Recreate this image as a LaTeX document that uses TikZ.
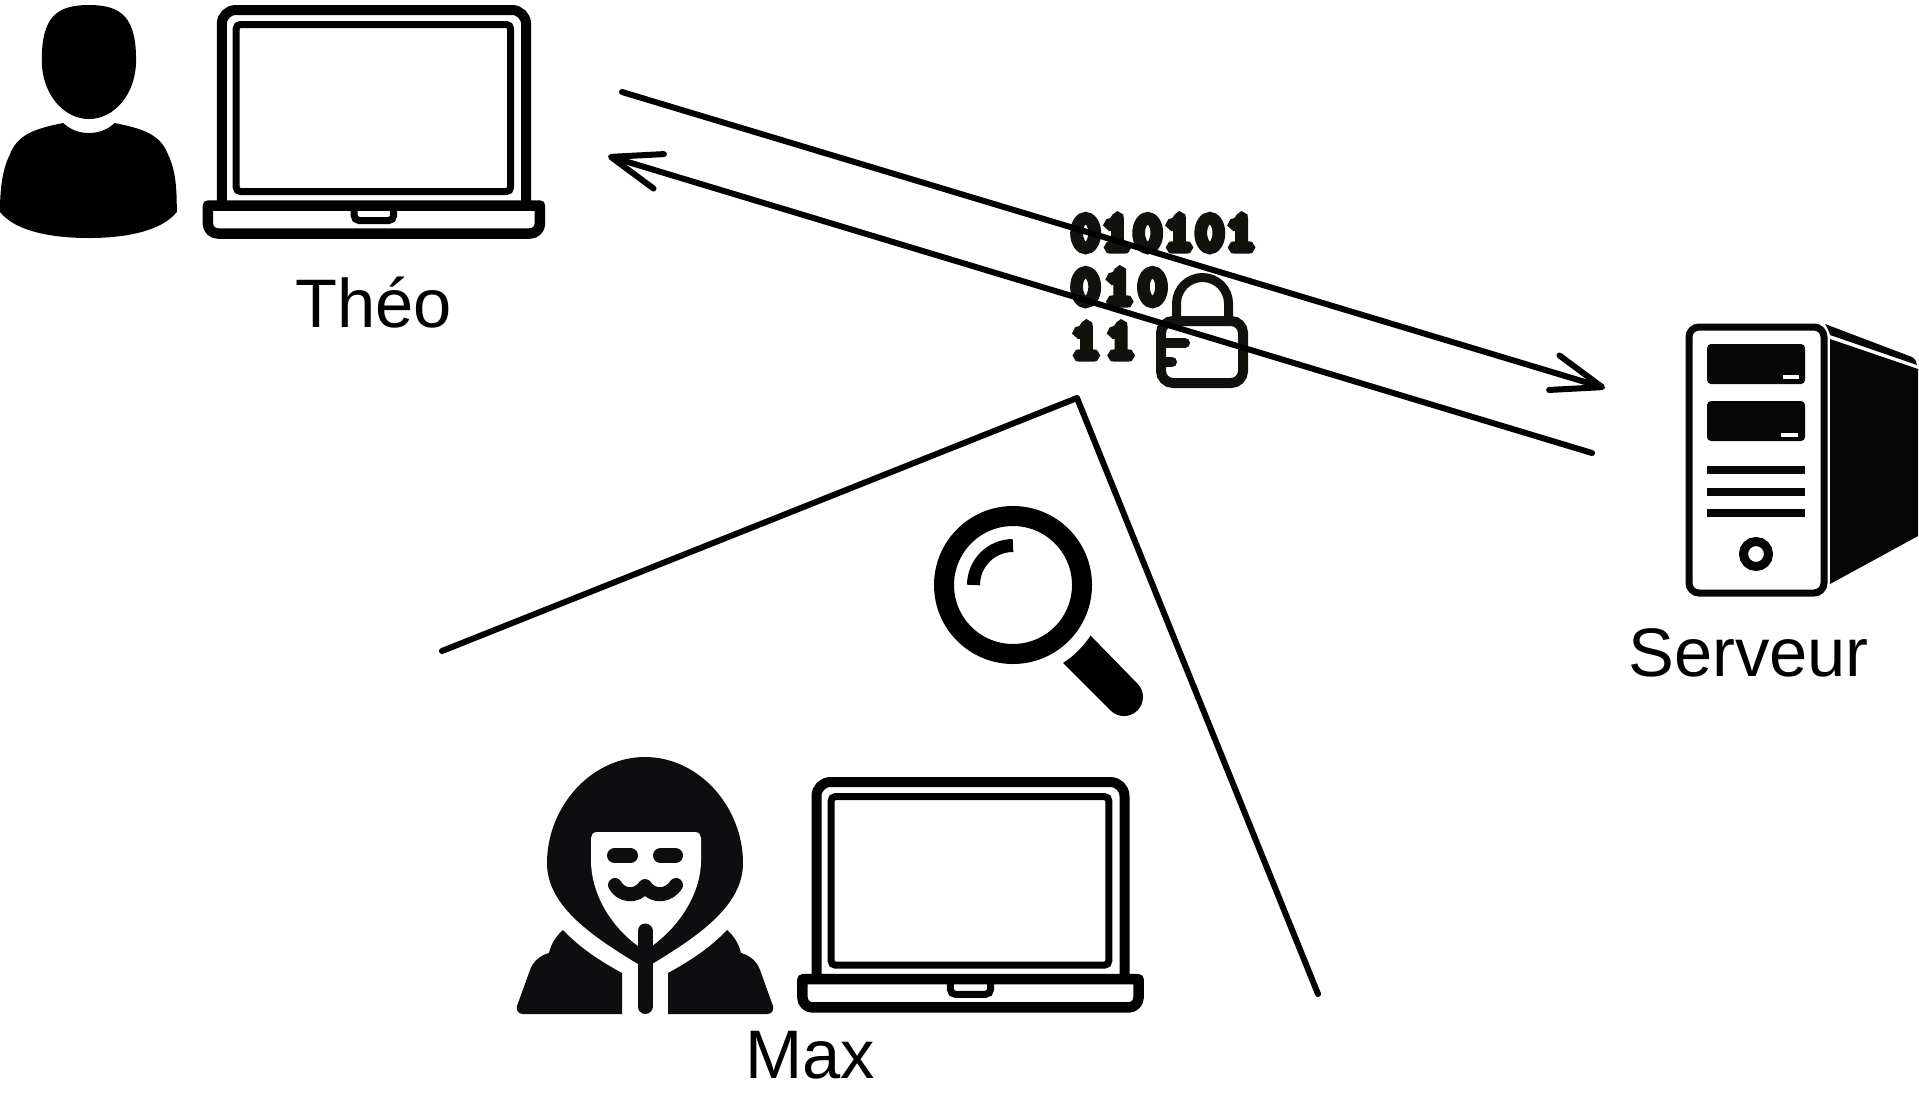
\documentclass[tikz,border=0pt]{standalone}
\usepackage{fontspec}
\setmainfont{Liberation Sans}
\newfontfamily\bitfont[FakeBold=18]{Latin Modern Mono}
\usetikzlibrary{arrows.meta}
\def\pxu{.75pt}
\definecolor{hackblack}{HTML}{0E0E10}
\definecolor{bitblack}{HTML}{10120C}
\definecolor{srvblack}{HTML}{060606}
\tikzset{
  x=.75pt,y=-.75pt,
  wire/.style={line width=6*\pxu,line cap=round,line join=round},
  openhead/.style={-{Straight Barb[length=50*\pxu,width=36*\pxu,round=false]}},
  caption/.style={anchor=base west,inner sep=0pt,font=\fontsize{#1pt}{#1pt}\selectfont},
  bits/.style={anchor=base west,inner sep=0pt,text=bitblack,font=\fontsize{39pt}{39pt}\bitfont},
  laptopicon/.pic={
    \draw[line width=10*\pxu,rounded corners=14*\pxu,line cap=butt] (207,201) -- (207,10) -- (491,10) -- (491,201);
    \draw[line width=7*\pxu,rounded corners=4*\pxu] (220.5,24.5) rectangle (476.5,191.5);
    \draw[line width=10.5*\pxu,line join=round] (194,205.5) [rounded corners=10*\pxu] -- (194,233.5) -- (504,233.5) [sharp corners] -- (504,205.5) -- cycle;
    \draw[line width=7*\pxu,rounded corners=5*\pxu] (330.5,210) -- (330.5,220.5) -- (367.5,220.5) -- (367.5,210);
  }
}
\begin{document}
\begin{tikzpicture}
\fill[white] (0,0) rectangle (1919,1100);
\useasboundingbox (0,0) rectangle (1919,1100);

% --- person
\begin{scope}[xscale=1.0714]
\fill[black] (83,5) .. controls (52,5) and (39,18) .. (39,60) .. controls (39,95) and (60,119) .. (83,119)
  .. controls (106,119) and (127,95) .. (127,60) .. controls (127,18) and (114,5) .. (83,5) -- cycle;
\fill[black] (59,123) .. controls (66,130) and (74,133) .. (83,133) .. controls (92,133) and (100,130) .. (107,123)
  .. controls (135,129) and (150,135) .. (157,155) .. controls (165,172) and (165,195) .. (165,212)
  .. controls (150,232) and (115,238) .. (83,238) .. controls (50,238) and (15,232) .. (0,212)
  .. controls (0,195) and (1,172) .. (9,155) .. controls (16,135) and (31,129) .. (59,123) -- cycle;
\end{scope}

% --- laptops
\pic[xscale=1.0714] at (0,0) {laptopicon};
\pic[xscale=1.0844,yscale=1.0085] at (592.05,771.96) {laptopicon};

% --- server
\draw[srvblack,line width=7*\pxu,rounded corners=10*\pxu] (1689,327) rectangle (1824,593);
\fill[srvblack,rounded corners=4*\pxu] (1707,344) rectangle (1805,384);
\fill[white] (1783,375) rectangle (1799,379);
\fill[srvblack,rounded corners=4*\pxu] (1707,401) rectangle (1805,441);
\fill[white] (1781,433) rectangle (1798,437);
\fill[srvblack] (1707,466) rectangle (1805,474);
\fill[srvblack] (1707,488) rectangle (1805,496);
\fill[srvblack] (1707,509) rectangle (1805,517);
\draw[srvblack,line width=9*\pxu] (1756,554) circle[radius=12.5];
\fill[srvblack] (1830,339) -- (1918,369) -- (1918,536) -- (1830,584) -- cycle;
\fill[srvblack] (1825,324) -- (1912,357) .. controls (1915,359) and (1917,362) .. (1917,365) -- (1830,335) .. controls (1829,331) and (1827,327) .. (1825,324) -- cycle;

% --- hacker
\fill[hackblack] (645,757) .. controls (591,757) and (547,807) .. (547,863)
  .. controls (547,905) and (590,935) .. (638,964) -- (652,964)
  .. controls (700,935) and (743,905) .. (743,863)
  .. controls (743,807) and (699,757) .. (645,757) -- cycle;
\fill[white] (597,832) -- (695,832) .. controls (699,832) and (701,835) .. (701,838) -- (701,860)
  .. controls (701,895) and (678,927) .. (652,946) -- (638,946)
  .. controls (612,927) and (591,895) .. (591,860) -- (591,838) .. controls (591,835) and (593,832) .. (597,832) -- cycle;
\draw[hackblack,line width=15*\pxu,line cap=round] (645,931) -- (645,1006.5);
\draw[hackblack,line width=15*\pxu,line cap=round] (614.5,855.5) -- (630.5,855.5);
\draw[hackblack,line width=15*\pxu,line cap=round] (660.5,855.5) -- (675.5,855.5);
\draw[hackblack,line width=14*\pxu,line cap=round,line join=round] (615,885)
  .. controls (620,895) and (636,899) .. (645,886)
  .. controls (654,899) and (670,895) .. (676,885);
\fill[hackblack] (563,930) .. controls (580,948) and (600,961) .. (622,973) -- (622,1014) -- (523,1014)
  .. controls (518,1014) and (516,1010) .. (517,1006) -- (530,970)
  .. controls (533,961) and (541,955) .. (549,953) .. controls (551,944) and (556,936) .. (563,930) -- cycle;
\fill[hackblack] (727,930) .. controls (710,948) and (690,961) .. (668,973) -- (668,1014) -- (767,1014)
  .. controls (772,1014) and (774,1010) .. (773,1006) -- (760,970)
  .. controls (757,961) and (749,955) .. (741,953) .. controls (739,944) and (734,936) .. (727,930) -- cycle;

% --- magnifier
\draw[line width=20*\pxu] (1013,585) circle[radius=69];
\draw[line width=13*\pxu] (973.5,585) arc[start angle=180,end angle=270,radius=39.5];
\fill (1090,635) -- (1137.4,683.6) arc[start angle=-45,end angle=135,radius=19] -- (1063,663) arc[start angle=57.3,end angle=33,radius=92] -- cycle;

% --- binary and padlock
\node[bits] (rowa) at (1072,249) {0\kern3.2pt 1\kern3.2pt 0\kern3.2pt 1\kern3.2pt 0\kern3.2pt 1};
\node[bits] (rowb) at (1072,303) {0\kern5pt 1\kern5pt 0};
\node[bits] (rowc) at (1072,357) {1\kern6pt 1};
\draw[bitblack,line width=10*\pxu,rounded corners=12*\pxu] (1161,321) rectangle (1243,383);
\draw[bitblack,line width=9*\pxu] (1176.5,317) -- (1176.5,303.5) arc[start angle=180,end angle=360,radius=26] -- (1228.5,317);
\draw[bitblack,line width=10*\pxu,line cap=round] (1161,343) -- (1185,343);
\draw[bitblack,line width=10*\pxu,line cap=round] (1161,362) -- (1172,362);

% --- captions
\node[caption=51.5] (theo) at (295,327) {Théo};
\node[caption=51.5] (serveur) at (1628,676) {Serveur};
\node[caption=51.5] (max) at (745,1078) {Max};

% --- connectors
\coordinate (upstart) at (622,92);
\coordinate (uptip) at (1605,388);
\coordinate (downstart) at (1592,453);
\coordinate (downtip) at (608,156);
\coordinate (viewa) at (442,651);
\coordinate (viewapex) at (1077,398);
\coordinate (viewb) at (1318,994);
\draw[wire,openhead] (upstart) -- (uptip);
\draw[wire,openhead] (downstart) -- (downtip);
\draw[wire] (viewa) -- (viewapex) -- (viewb);
\end{tikzpicture}
\end{document}
